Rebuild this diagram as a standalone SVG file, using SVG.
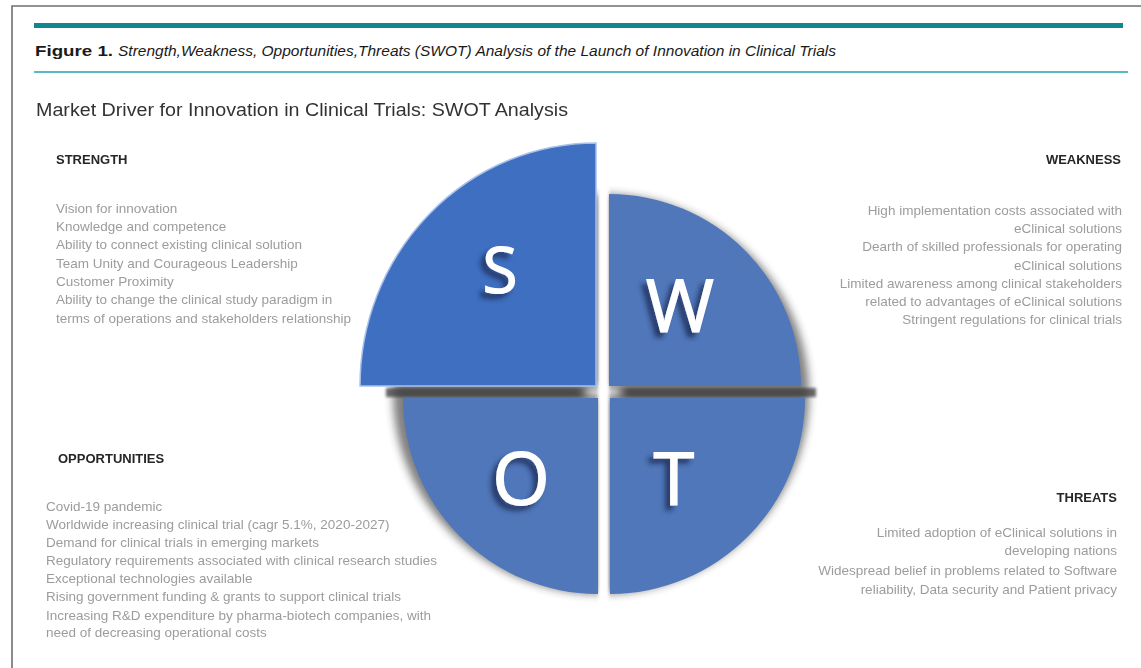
<svg xmlns="http://www.w3.org/2000/svg" width="1141" height="668" viewBox="0 0 1141 668">
  <defs>
    <style>
      .cap-b { font-family: "Liberation Sans", Arial, sans-serif; font-weight: bold; font-size: 15px; fill: #1a1a1a; }
      .cap-i { font-family: "Liberation Sans", Arial, sans-serif; font-style: italic; font-size: 14px; fill: #1a1a1a; }
      .title { font-family: "Liberation Sans", Arial, sans-serif; font-size: 17.5px; fill: #333333; }
      .head { font-family: "Liberation Sans", Arial, sans-serif; font-weight: bold; font-size: 13px; fill: #262626; }
      .body { font-family: "Liberation Sans", Arial, sans-serif; font-size: 13.5px; fill: #9c9c9c; }
      .letter { font-family: "Open Sans", "Liberation Sans", sans-serif; fill: #ffffff; stroke: #ffffff; stroke-width: 1.2; text-anchor: middle; }
      .q { fill: #5077ba; }
    </style>
    <filter id="blurShadow" x="-20%" y="-20%" width="140%" height="140%">
      <feGaussianBlur stdDeviation="4"/>
    </filter>
    <filter id="softBlur" x="-20%" y="-20%" width="140%" height="140%">
      <feGaussianBlur stdDeviation="1.5"/>
    </filter>
    <filter id="centerBlur" x="-50%" y="-100%" width="200%" height="300%">
      <feGaussianBlur stdDeviation="4"/>
    </filter>
    <filter id="textSoft" x="-5%" y="-30%" width="110%" height="160%">
      <feGaussianBlur stdDeviation="0.35"/>
    </filter>
    <filter id="letterShadow" x="-50%" y="-50%" width="200%" height="200%">
      <feGaussianBlur in="SourceAlpha" stdDeviation="2.5" result="b"/>
      <feOffset in="b" dx="-5" dy="5" result="o"/>
      <feFlood flood-color="#1c2b55" flood-opacity="0.8"/>
      <feComposite in2="o" operator="in" result="s"/>
      <feMerge>
        <feMergeNode in="s"/>
        <feMergeNode in="SourceGraphic"/>
      </feMerge>
    </filter>
  </defs>

  <rect x="0" y="0" width="1141" height="668" fill="#ffffff"/>

  <!-- frame -->
  <g id="frame">
    <path d="M12 668 V6 H1141" fill="none" stroke="#6f6f6f" stroke-width="1.6"/>
    <rect x="34" y="23" width="1089" height="5" fill="#0f878c"/>
    <line x1="34" y1="72" x2="1128" y2="72" stroke="#22a2b2" stroke-width="1.5"/>
  </g>

  <!-- caption -->
  <g id="caption">
    <text class="cap-b" x="35" y="56" textLength="78" lengthAdjust="spacingAndGlyphs">Figure 1.</text>
    <text class="cap-i" x="118" y="56" textLength="718" lengthAdjust="spacingAndGlyphs">Strength,Weakness, Opportunities,Threats (SWOT) Analysis of the Launch of Innovation in Clinical Trials</text>
  </g>

  <g id="title" filter="url(#textSoft)">
    <text class="title" x="36" y="116" textLength="532" lengthAdjust="spacingAndGlyphs">Market Driver for Innovation in Clinical Trials: SWOT Analysis</text>
  </g>

  <!-- pie -->
  <g id="pie">
    <ellipse cx="601" cy="394" rx="208" ry="200" fill="#2a2a2a" opacity="0.6" filter="url(#blurShadow)"/>
    <rect x="386" y="388" width="430" height="9" fill="#3a3a3a" opacity="0.75" filter="url(#softBlur)"/>
    <rect x="598" y="130" width="11" height="480" fill="#ffffff" filter="url(#softBlur)"/>
    <ellipse cx="603" cy="392" rx="20" ry="5" fill="#ffffff" filter="url(#centerBlur)"/>
    <g id="node-s">
      <path d="M596 386 L360 386 A236 243 0 0 1 596 143 Z" fill="#3f6fc1" stroke="#a9c0ea" stroke-width="1.5"/>
      <text class="letter" x="500" y="293" font-size="64" filter="url(#letterShadow)">S</text>
    </g>
    <g id="node-w">
      <path d="M609 386 L609 194 A192 192 0 0 1 801 386 Z" class="q"/>
      <text class="letter" x="680" y="332" font-size="74" filter="url(#letterShadow)">W</text>
    </g>
    <g id="node-o">
      <path d="M598 398 L598 594 A195 196 0 0 1 403 398 Z" class="q"/>
      <text class="letter" x="521" y="505" font-size="74" filter="url(#letterShadow)">O</text>
    </g>
    <g id="node-t">
      <path d="M610 398 L805 398 A195 196 0 0 1 610 594 Z" class="q"/>
      <text class="letter" x="674" y="505" font-size="74" filter="url(#letterShadow)">T</text>
    </g>
  </g>

  <g id="connectors"></g>

  <!-- strength -->
  <g id="strength" filter="url(#textSoft)">
    <text class="head" x="56" y="164">STRENGTH</text>
    <text class="body" x="56" y="213">Vision for innovation</text>
    <text class="body" x="56" y="231">Knowledge and competence</text>
    <text class="body" x="56" y="249">Ability to connect existing clinical solution</text>
    <text class="body" x="56" y="268">Team Unity and Courageous Leadership</text>
    <text class="body" x="56" y="286">Customer Proximity</text>
    <text class="body" x="56" y="304">Ability to change the clinical study paradigm in</text>
    <text class="body" x="56" y="323">terms of operations and stakeholders relationship</text>
  </g>

  <!-- weakness -->
  <g id="weakness" filter="url(#textSoft)" text-anchor="end">
    <text class="head" x="1121" y="164">WEAKNESS</text>
    <text class="body" x="1122" y="215">High implementation costs associated with</text>
    <text class="body" x="1122" y="233">eClinical solutions</text>
    <text class="body" x="1122" y="251">Dearth of skilled professionals for operating</text>
    <text class="body" x="1122" y="270">eClinical solutions</text>
    <text class="body" x="1122" y="288">Limited awareness among clinical stakeholders</text>
    <text class="body" x="1122" y="306">related to advantages of eClinical solutions</text>
    <text class="body" x="1122" y="324">Stringent regulations for clinical trials</text>
  </g>

  <!-- opportunities -->
  <g id="opportunities" filter="url(#textSoft)">
    <text class="head" x="58" y="463">OPPORTUNITIES</text>
    <text class="body" x="46" y="511">Covid-19 pandemic</text>
    <text class="body" x="46" y="529">Worldwide increasing clinical trial (cagr 5.1%, 2020-2027)</text>
    <text class="body" x="46" y="547">Demand for clinical trials in emerging markets</text>
    <text class="body" x="46" y="565">Regulatory requirements associated with clinical research studies</text>
    <text class="body" x="46" y="583">Exceptional technologies available</text>
    <text class="body" x="46" y="601">Rising government funding &amp; grants to support clinical trials</text>
    <text class="body" x="46" y="620">Increasing R&amp;D expenditure by pharma-biotech companies, with</text>
    <text class="body" x="46" y="637">need of decreasing operational costs</text>
  </g>

  <!-- threats -->
  <g id="threats" filter="url(#textSoft)" text-anchor="end">
    <text class="head" x="1117" y="502">THREATS</text>
    <text class="body" x="1117" y="537">Limited adoption of eClinical solutions in</text>
    <text class="body" x="1117" y="555">developing nations</text>
    <text class="body" x="1117" y="575">Widespread belief in problems related to Software</text>
    <text class="body" x="1117" y="594">reliability, Data security and Patient privacy</text>
  </g>
</svg>
